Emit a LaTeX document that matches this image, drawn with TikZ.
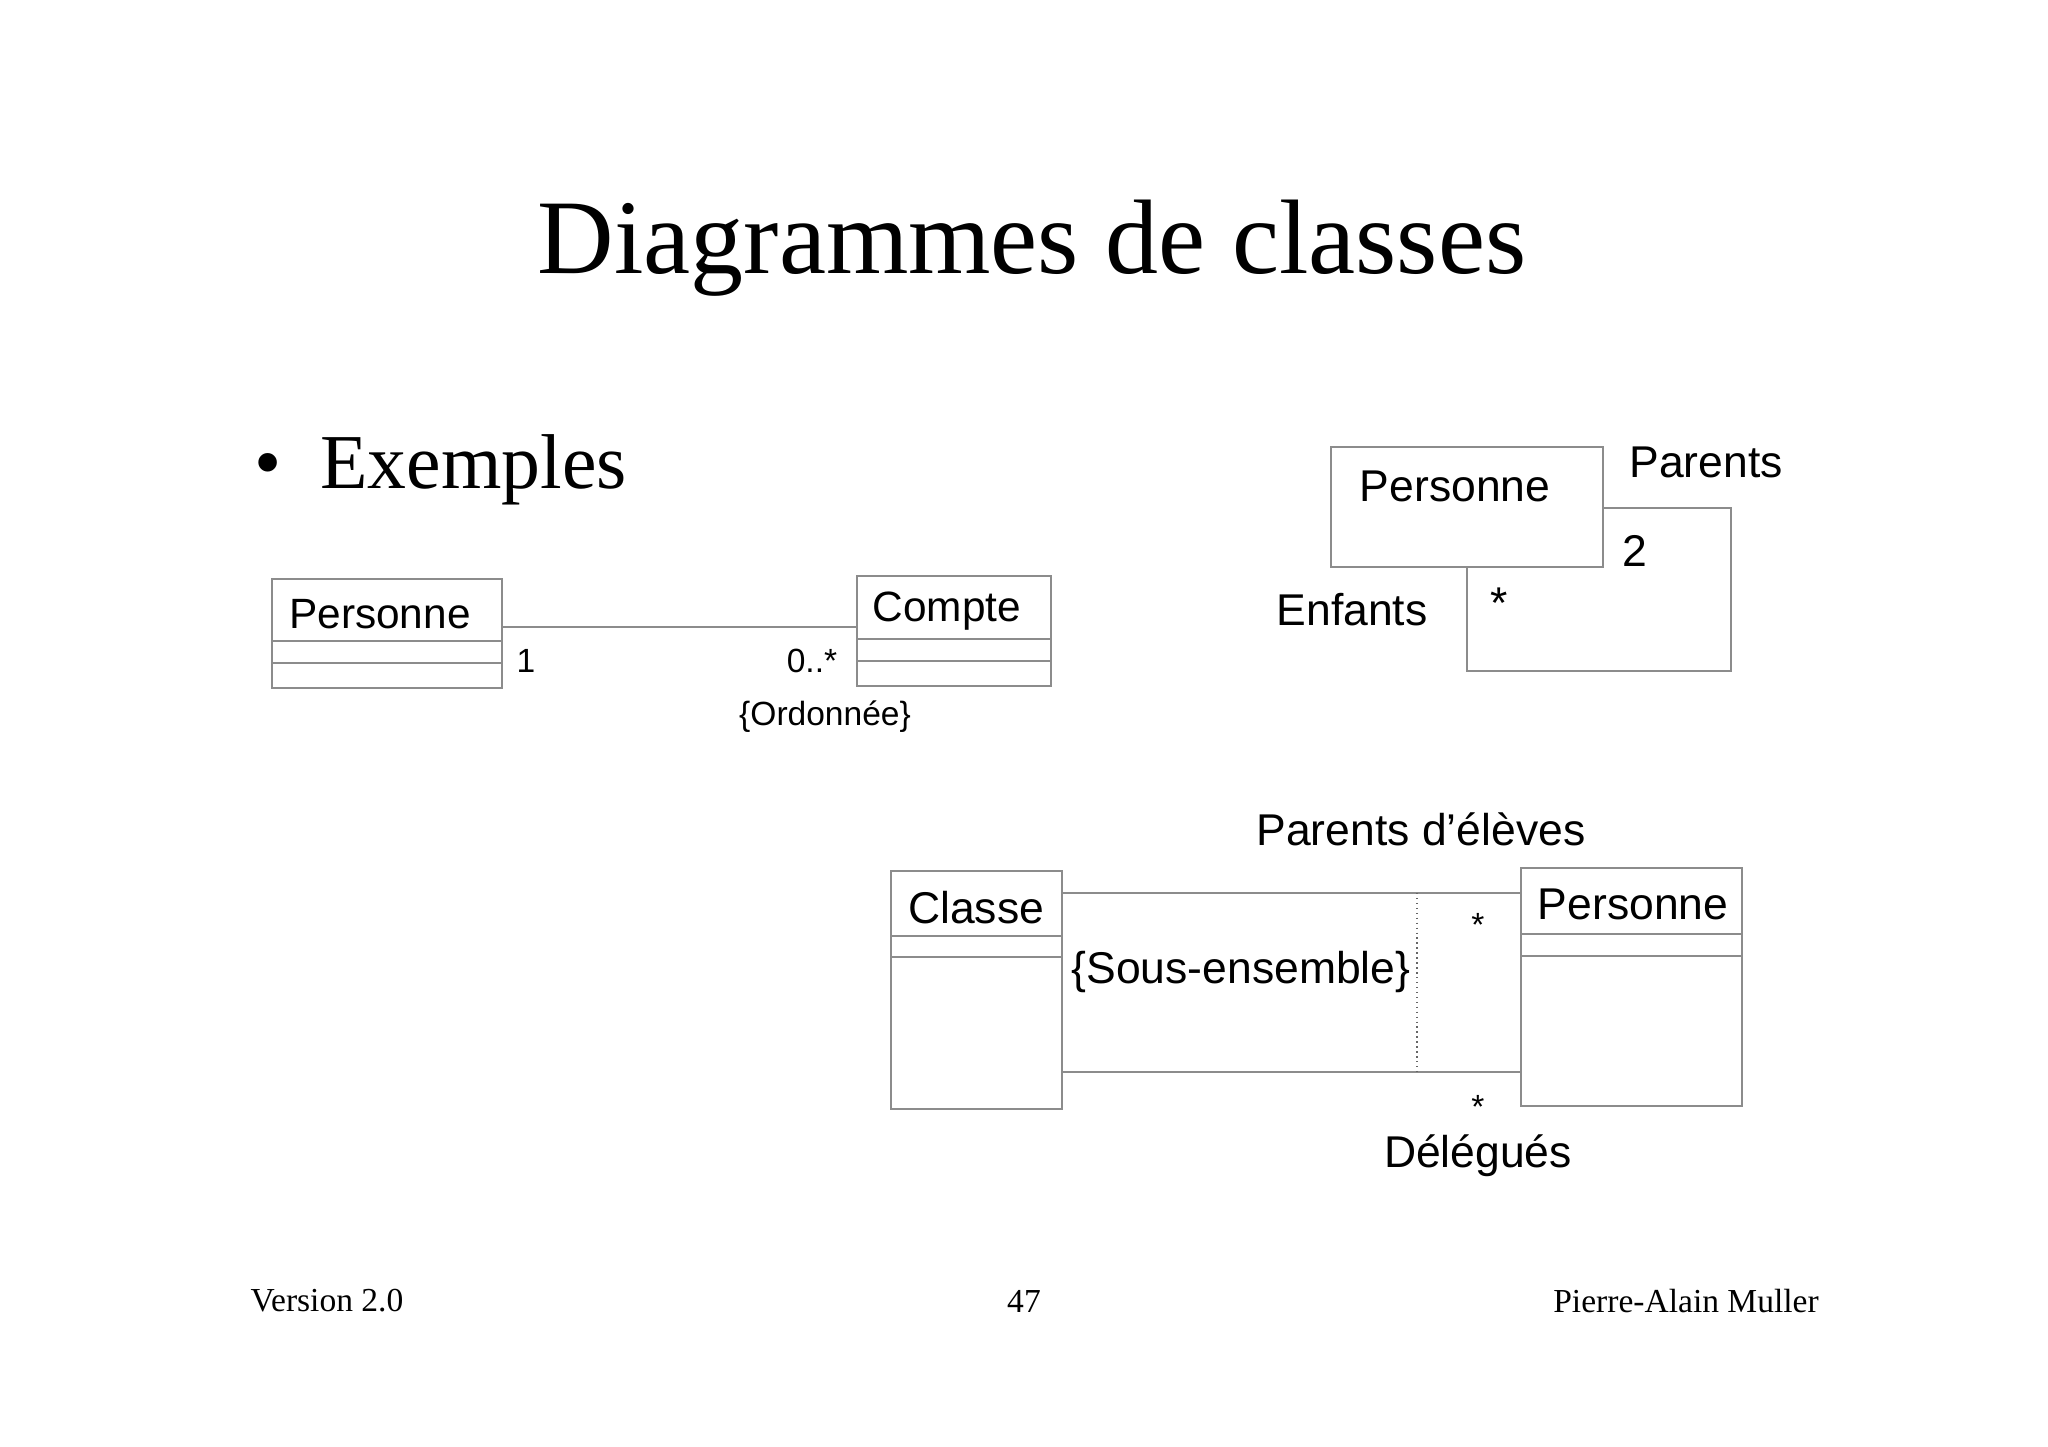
\documentclass[tikz,border=0pt]{standalone}
\usepackage{fontspec}
\setmainfont{Liberation Serif}
\setsansfont{Liberation Sans}
\begin{document}
\begin{tikzpicture}[x=0.2832pt,y=-0.2832pt,
  ln/.style={draw=black!45,line width=0.5pt},
  lab/.style={font=\sffamily\fontsize{12}{14}\selectfont,inner sep=0pt},
  big/.style={font=\sffamily\fontsize{12.6}{14}\selectfont,inner sep=0pt},
  sm/.style={font=\sffamily\fontsize{9.5}{11}\selectfont,inner sep=0pt},
  foot/.style={font=\fontsize{9.5}{11}\selectfont,inner sep=0pt}]
\useasboundingbox (0,0) rectangle (2048,1447);
\node[font=\fontsize{30}{34}\selectfont] (title) at (1032,248) {Diagrammes de classes};
\node[font=\fontsize{22}{26}\selectfont,anchor=west] (ex) at (242,470) {\textbullet\ \ Exemples};
% left example
\draw[ln] (272,579) rectangle (502,688);
\draw[ln] (272,641) -- (502,641) (272,663) -- (502,663);
\node[lab] (p1) at (380,614) {Personne};
\draw[ln] (857,576) rectangle (1051,686);
\draw[ln] (857,639) -- (1051,639) (857,661) -- (1051,661);
\node[lab] (c1) at (947,611) {Compte};
\coordinate (a1) at (502,627); \coordinate (a2) at (857,627);
\draw[ln] (a1) -- (a2);
\node[sm] (m1) at (526,661) {1};
\node[sm] (m2) at (812,661) {0..*};
\node[sm] (ord) at (825,717) {\{Ordonnée\}};
% top right
\draw[ln] (1467,508) rectangle (1731,671);
\draw[ln,fill=white] (1331,447) rectangle (1603,567);
\node[big] (p2) at (1455,486) {Personne};
\node[big] (par) at (1706,462) {Parents};
\node[big] (two) at (1635,551) {2};
\node[big] (enf) at (1352,610) {Enfants};
\node[big] (st) at (1499,603) {*};
% bottom
\draw[ln] (891,871) rectangle (1062,1109);
\draw[ln] (891,936) -- (1062,936) (891,957) -- (1062,957);
\node[big] (cl) at (976,908) {Classe};
\draw[ln] (1521,868) rectangle (1742,1106);
\draw[ln] (1521,934) -- (1742,934) (1521,956) -- (1742,956);
\node[big] (p3) at (1633,904) {Personne};
\draw[ln] (1062,893) -- (1521,893);
\draw[ln] (1062,1072) -- (1521,1072);
\draw[draw=black!60,line width=0.4pt,densely dotted] (1417,893) -- (1417,1072);
\node[big] (se) at (1241,972) {\{Sous-ensemble\}};
\node[sm] (s1) at (1478,925) {*};
\node[sm] (s2) at (1478,1107) {*};
\node[big] (pe) at (1421,829) {Parents d'élèves};
\node[big] (del) at (1478,1156) {Délégués};
% footer
\node[foot] (f1) at (327,1301) {Version 2.0};
\node[foot] (f2) at (1024,1301) {47};
\node[foot] (f3) at (1686,1301) {Pierre-Alain Muller};
\end{tikzpicture}
\end{document}
